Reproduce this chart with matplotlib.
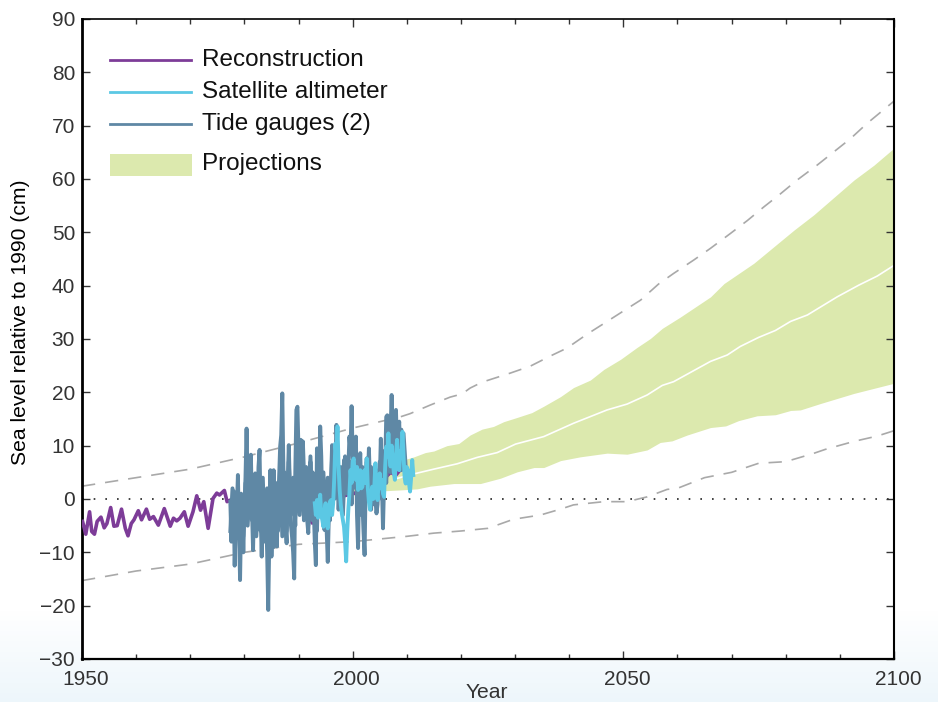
import numpy as np
import matplotlib
matplotlib.use("Agg")
import matplotlib.pyplot as plt
from matplotlib.transforms import ScaledTranslation

plt.rcParams['font.family'] = ['Liberation Sans', 'DejaVu Sans']

recon_t = [1950.1,1950.7,1951.4,1951.8,1952.3,1952.8,1953.5,1954.1,1954.6,1955.3,1955.9,1956.5,1957.3,1958,1958.5,1959.1,1959.6,1960.4,1961,1961.9,1962.5,1963.2,1964.1,1965.2,1966.3,1966.9,1967.5,1968.1,1968.9,1969.6,1970.5,1971.2,1971.9,1972.5,1973.3,1974.2,1974.9,1975.4,1976.3,1976.8,1977.4,1978,1980,1980.4,1984.8,1987.2,1988.5,1990,1990.6,1991.3,1992.5,1993.5,1996,2000,2004,2007,2008,2008.8]
recon_v = [-4.2,-6.6,-2.4,-6.1,-6.6,-4.2,-3.4,-5.4,-4.6,-1.6,-5.1,-5,-1.9,-5.5,-6.9,-4.6,-3.9,-2.2,-3.9,-1.9,-3.8,-3.3,-4.9,-1.8,-5.1,-3.6,-4.1,-3.6,-2.4,-5.1,-2.4,0.6,-2.1,-0.5,-5.5,0.1,1.1,0.75,1.6,-0.5,-0.2,-2,-1,-2,-3,-5,-2,2.4,0.5,1,-4.5,-1,0,1,2,5,4.5,5.5]

# first tide-gauge record, one reading every 0.2 yr from 1977.4
gauge_start = 1977.4
gauge_step = 0.2
gauge_v = [-0.5,-8,-1,1.5,-12.5,-4,-2,4.5,-6,-15.2,-3,-1,-10,-2,4,13.2,3,-1,
           5,8.3,-2,-9.6,0,4.8,0,-4.6,6,9.2,-3,-10.8,2,0,-6,-3.3,-10,-20.8,-8,5.4,
           -10.8,-2,5.4,-3,-6,-8.9,1,3.6,9.8,12,19.8,6,-0.8,-5,-8.3,3,10.1,2,-5,-7.1,-10,-14.9,5,16.7,17.3,
           9,4.2,11.1,7,10.8,5,2,-0.8,-4,-6.4,0,7,2,5,-1.4,-8,-12.4,9.5,3,0.4,
           13.6,8,-2,-1,-5.8,2,-6,-11.8,-3,2,3.6,10.1,5.4,8,6,13.9,9,4,1.1,5,-2,2,7.3,3,4,2.9,6,11.7,9,17.4,
           8,2.3,9,11.7,-3,-9.2,4,8.6,1,-0.8,-6,-10.5,3,7.6,4,9.5,3,-2,3,1.1,4,0,-2.7,-1,5.4,3,11.3,3,-5.5,3,
           6.1,15.4,15.7,10,8.6,13,19.5,10,5.4,12,16.7,9.2,12,14.5,8,5.4,9,12.3,9.2,6]
# second tide-gauge record, one reading every 0.4 yr from 1977.4
gauge2_step = 0.4
gauge2_v = [-6,2,-8,0,-5, 1,-7,3,-5,2, -4,3,-7,1,-6, 4,-8,2,-9,1, -9,3,-6,6,-7, 5,-6,7,-3,4,
            -5,10,-3,9,-4, 6,-5,8,-4,3, -6,8,-3,5,-5, 4,-4,8,0,9, -2,6,-3,8,1, 7,-1,10,2,7,
            -3,6,-2,7,0, 6,-1,5,1,7, 0,9,3,12,5, 13,6,12,7,13, 7]

# satellite altimeter, one reading every 0.2 yr from 1993.0
sat_start = 1993.0
sat_step = 0.2
sat_v = [-0.8,-3,-0.2,-3.5,-1,0.8,-3,-4,-5.2,-2,-0.8,-4,-5.5,-3,-0.5,-0.2,-3,-0.8,4,10.4,8,13.6,6,1.7,-1,
         -2.7,-4,-5.2,-8,-11.7,-6,-2,1,5.4,3,7,7.6,4,3.6,6,1.7,3,5.4,2,2.3,5,5.4,3,7.6,2,-0.5,-2,1,2.3,0,
         2.3,6.7,2,-0.2,3,4.8,2,3.6,1,0.4,6,9.8,8,12.3,8,6.1,10,7.3,5,3.6,8,11.1,7,5.4,9,7.9,12.6,8,4,2.9,
         6,5.4,3,1.4,4,7.3,4.5]

upper_t = [1996,2000,2005,2011.3,2013.4,2015,2017.4,2019.6,2021.7,2023.9,2026,2027.9,2030.4,2033.1,2035.3,2038.4,2040.8,2043.9,2046.4,2049.5,2052.5,2055,2057.2,2060.5,2066.1,2068.6,2074.1,2081.5,2085.2,2092.6,2096.3,2100]
upper_v = [0.8,3.5,6,7.9,8.7,9,10,10.4,12,13.1,13.6,14.5,15.3,16.2,17.4,19.2,20.9,22.3,24.3,26.2,28.4,30.1,32,34.1,37.9,40.4,44.2,50.4,53.3,59.8,62.6,65.8]
lower_t = [1996,2000,2005,2008.8,2011.9,2014.3,2018.7,2023.6,2027.3,2030.4,2033.5,2035.3,2038.4,2042,2047,2050.7,2054.4,2056.8,2059,2061.8,2066.1,2068.9,2071.3,2074.7,2078.1,2080.9,2082.7,2086.4,2092.6,2100]
lower_v = [0.5,0.7,1.5,1.7,1.9,2.4,2.9,2.9,3.9,5.1,5.9,5.9,7.2,7.9,8.6,8.4,9.2,10.6,10.9,12,13.4,13.7,14.7,15.6,15.8,16.6,16.7,17.9,19.8,21.7]
mid_t = [2008,2011.3,2015,2019.3,2023,2026.7,2030.1,2035.3,2040.8,2047,2050.7,2054.4,2057.2,2059.3,2066.1,2069.2,2071.6,2075,2078.1,2080.9,2084,2089.5,2093.5,2096.9,2100]
mid_v = [3.8,4.7,5.6,6.6,7.8,8.7,10.3,11.7,14.2,16.7,17.8,19.5,21.3,22,25.8,27,28.6,30.3,31.6,33.3,34.5,37.9,40.1,41.8,43.8]

dash_up_t = [1950,1960,1970,1980,1990,2000,2008.8,2010.6,2014.3,2018,2020.2,2021.7,2023.9,2029.1,2032.8,2036.5,2039.6,2043.3,2046.4,2050.1,2053.2,2056.5,2059.3,2063,2066.1,2069.8,2072.9,2076,2079,2082.1,2085.8,2088.9,2092,2095,2100]
dash_up_v = [2.4,4,5.6,7.9,10.5,13.3,15.4,16,17.6,19.1,19.7,20.8,21.9,23.6,24.9,26.8,28.3,30.9,32.9,35.3,37.3,40.3,42.3,44.8,47,49.8,52.2,54.8,57.2,59.8,62.6,65.1,67.6,70.4,74.6]
dash_lo_t = [1950,1960,1970,1980,1990,2000,2010,2015,2020,2025,2029.7,2034.7,2038.4,2040.8,2046.4,2050.7,2054.4,2058.1,2060,2065,2070,2075,2080,2085,2087.3,2092.6,2096.9,2100]
dash_lo_v = [-15.3,-13.5,-12.2,-10,-8.5,-8,-7,-6.4,-6,-5.5,-3.8,-3,-1.9,-1.1,-0.5,-0.5,0.4,1.8,2,4,5,6.7,7,8.5,9.3,10.8,11.8,12.8]

legend_labels = ['Reconstruction', 'Satellite altimeter', 'Tide gauges (2)']

PURPLE = '#7d3c98'; CYAN = '#5bc8e4'; STEEL = '#5f88a5'; GREEN = '#dce9ae'; GREY = '#a9a9a9'; TXT = '#333333'

fig = plt.figure(figsize=(9.38, 7.02), dpi=100)
bg = fig.add_axes([0, 0, 1, 1], zorder=-5)
ramp = np.clip((np.arange(702) - 610) / 92, 0, 1)[:, None, None]
grad = np.ones((702, 1, 3)) * (1 - ramp) + np.array([0.93, 0.965, 0.985]) * ramp
bg.imshow(grad, aspect='auto', extent=[0, 1, 0, 1], origin='upper')
bg.axis('off')

ax = fig.add_axes([82/938, 1 - 659/702, (894-82)/938, (659-19)/702])
ax.set_xlim(1950, 2100)
ax.set_ylim(-30, 90)

band_t = sorted(set(upper_t) | set(lower_t))
ax.fill_between(band_t, np.interp(band_t, lower_t, lower_v), np.interp(band_t, upper_t, upper_v), color=GREEN, lw=0, zorder=1)
ax.plot(mid_t, mid_v, color='white', lw=1.2, zorder=2)
ax.axhline(0, color='#222222', lw=1.2, ls=(0, (1, 6)), zorder=1.5)
ax.plot(dash_up_t, dash_up_v, color=GREY, lw=1.2, ls=(0, (8, 6)), zorder=2)
ax.plot(dash_lo_t, dash_lo_v, color=GREY, lw=1.2, ls=(0, (8, 6)), zorder=2)
ax.plot(recon_t, recon_v, color=PURPLE, lw=2.6, zorder=3)
ax.plot(gauge_start + gauge_step * np.arange(len(gauge_v)), gauge_v, color=STEEL, lw=2.8, zorder=4)
ax.plot(gauge_start + gauge2_step * np.arange(len(gauge2_v)), gauge2_v, color=STEEL, lw=2.8, zorder=4)
ax.plot(sat_start + sat_step * np.arange(len(sat_v)), sat_v, color=CYAN, lw=2.8, zorder=5)

ax.set_xticks([1950, 2000, 2050, 2100])
ax.set_xticks(np.arange(1950, 2101, 10), minor=True)
ax.set_yticks(np.arange(-30, 91, 10))
ax.set_yticklabels(['\u221230', '\u221220', '\u221210'] + [str(v) for v in range(0, 91, 10)])
ax.tick_params(axis='x', which='major', direction='in', top=True, length=5.5, width=1, labelsize=15, labelcolor=TXT, pad=8, color='#333333')
ax.tick_params(axis='x', which='minor', direction='in', top=True, length=3.5, width=1, color='#333333')
ax.tick_params(axis='y', which='major', direction='in', right=True, length=6, width=1, labelsize=15, labelcolor=TXT, pad=5, color='#333333')
shift = ScaledTranslation(4/100, 0, fig.dpi_scale_trans)
for lab in ax.get_xticklabels():
    lab.set_transform(lab.get_transform() + shift)
for s in ax.spines.values():
    s.set_linewidth(1.2)
ax.spines['left'].set_linewidth(2)
ax.spines['right'].set_linewidth(1.5)
ax.spines['bottom'].set_linewidth(1.6)
fig.text(21/938, 1 - 322/702, 'Sea level relative to 1990 (cm)', rotation=90, fontsize=15.2, color='black', ha='center', va='center')
fig.text(487/938, 1 - 693/702, 'Year', fontsize=15.2, ha='center', va='center', color=TXT)

for label, col, ypx in zip(legend_labels, [PURPLE, CYAN, STEEL], [60, 92, 124]):
    fig.add_artist(plt.Line2D([110/938, 191/938], [1 - ypx/702]*2, color=col, lw=2.0))
    fig.text(202/938, 1 - ypx/702, label, fontsize=17.5, va='center', color='#111111')
fig.add_artist(plt.Rectangle((110/938, 1 - 176/702), 82/938, 22/702, color=GREEN, lw=0, transform=fig.transFigure))
fig.text(202/938, 1 - 164/702, 'Projections', fontsize=17.5, va='center', color='#111111')

fig.savefig('out.png', dpi=100)
